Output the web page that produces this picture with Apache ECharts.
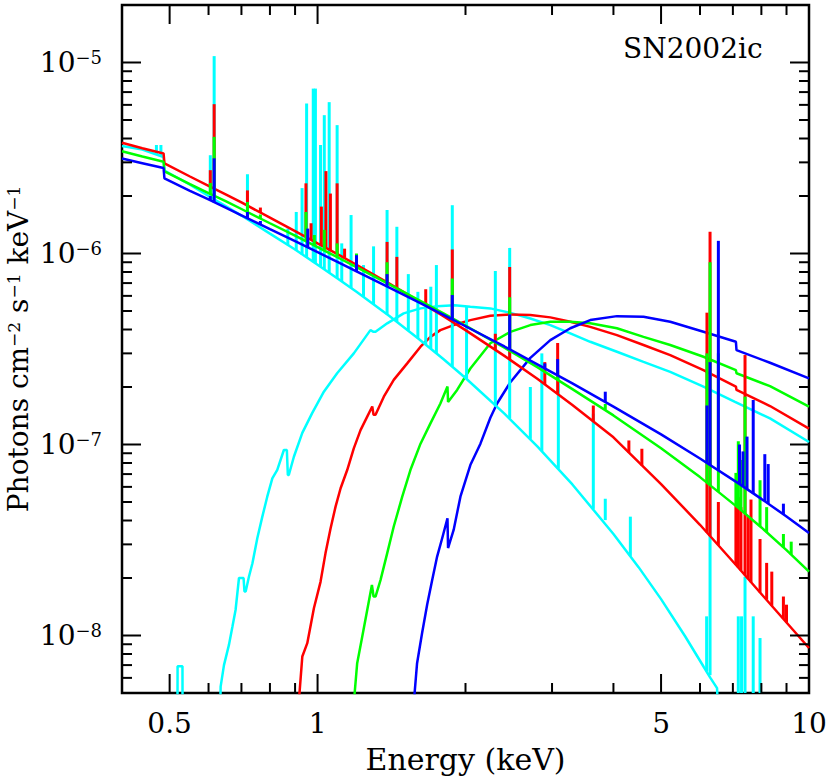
<!DOCTYPE html>
<html><head><meta charset="utf-8">
<script src="https://cdn.jsdelivr.net/npm/echarts@6/dist/echarts.min.js"></script>
<style>html,body{margin:0;padding:0;background:#fff}#c{width:830px;height:780px}</style>
</head><body><div id="c"></div>
<script>
// ---------- axis ranges & ticks ----------
const X_MIN = 0.4, X_MAX = 10, Y_MIN = 5e-9, Y_MAX = 2e-5;
const xMajorTicks = [0.5, 1, 5, 10];
const xTickLabels = ['0.5', '1', '5', '10'];
const xMinorTicks = [0.6, 0.7, 0.8, 0.9, 2, 3, 4, 6, 7, 8, 9];
const yMajorTicks = [1e-8, 1e-7, 1e-6, 1e-5];
const yMinorTicks = [6e-9, 7e-9, 8e-9, 9e-9, 2e-8, 3e-8, 4e-8, 5e-8, 6e-8, 7e-8, 8e-8, 9e-8,
  2e-7, 3e-7, 4e-7, 5e-7, 6e-7, 7e-7, 8e-7, 9e-7, 2e-6, 3e-6, 4e-6, 5e-6, 6e-6, 7e-6, 8e-6, 9e-6];

// ---------- absorbed (rising) model curves [keV, flux] ----------
const cyanAbs = [[0.518,1e-9],[0.519,6.9e-9],[0.531,6.9e-9],[0.532,1e-9],[0.628,1e-9],[0.635,5.4e-9],[0.645,7.0e-9],[0.660,8.9e-9],[0.671,1.11e-8],[0.681,1.36e-8],[0.692,2.0e-8],[0.707,2.0e-8],[0.710,1.70e-8],[0.714,1.70e-8],[0.725,2.03e-8],[0.737,2.39e-8],[0.754,3.23e-8],[0.772,4.19e-8],[0.790,5.33e-8],[0.809,6.65e-8],[0.828,7.36e-8],[0.854,9.36e-8],[0.866,9.36e-8],[0.870,6.92e-8],[0.874,6.92e-8],[0.895,8.63e-8],[0.931,1.15e-7],[0.975,1.46e-7],[1.030,1.89e-7],[1.096,2.36e-7],[1.185,3.0e-7],[1.281,3.97e-7],[1.300,3.89e-7],[1.312,3.89e-7],[1.386,4.31e-7],[1.497,4.86e-7],[1.620,5.16e-7],[1.751,5.30e-7],[1.900,5.36e-7],[2.046,5.26e-7],[2.247,5.16e-7],[2.468,4.89e-7],[2.710,4.57e-7],[2.976,4.22e-7],[3.268,3.82e-7],[3.588,3.45e-7],[4.066,3.06e-7],[4.605,2.71e-7],[5.219,2.40e-7],[6.098,2.01e-7],[7.07,1.67e-7],[8.33,1.37e-7],[10,1.03e-7]];
const redAbs = [[0.905,3e-9],[0.931,7.76e-9],[0.953,9.12e-9],[0.983,1.39e-8],[1.014,1.91e-8],[1.038,2.70e-8],[1.063,3.64e-8],[1.088,4.73e-8],[1.114,5.90e-8],[1.149,7.35e-8],[1.185,9.55e-8],[1.223,1.19e-7],[1.262,1.40e-7],[1.292,1.58e-7],[1.300,1.43e-7],[1.312,1.43e-7],[1.364,1.78e-7],[1.429,2.18e-7],[1.522,2.66e-7],[1.620,3.25e-7],[1.697,3.66e-7],[1.778,3.97e-7],[1.892,4.22e-7],[2.046,4.48e-7],[2.247,4.72e-7],[2.468,4.80e-7],[2.710,4.76e-7],[2.976,4.63e-7],[3.268,4.39e-7],[3.588,4.13e-7],[4.066,3.74e-7],[4.605,3.32e-7],[5.219,2.94e-7],[6.098,2.45e-7],[7.10,2.01e-7],[7.12,1.93e-7],[8.33,1.59e-7],[10,1.21e-7]];
const greenAbs = [[1.170,3e-9],[1.204,7.16e-9],[1.233,9.87e-9],[1.262,1.36e-8],[1.290,1.84e-8],[1.300,1.60e-8],[1.312,1.60e-8],[1.343,1.95e-8],[1.386,2.70e-8],[1.429,3.72e-8],[1.487,5.33e-8],[1.545,7.35e-8],[1.620,1.01e-7],[1.697,1.29e-7],[1.778,1.64e-7],[1.838,2.01e-7],[1.843,1.67e-7],[1.849,1.67e-7],[1.923,1.93e-7],[2.046,2.50e-7],[2.247,3.39e-7],[2.468,3.89e-7],[2.710,4.22e-7],[2.976,4.39e-7],[3.268,4.39e-7],[3.588,4.31e-7],[4.066,4.06e-7],[4.605,3.66e-7],[5.219,3.32e-7],[6.098,2.88e-7],[7.10,2.45e-7],[7.12,2.36e-7],[8.33,2.02e-7],[10,1.58e-7]];
const blueAbs = [[1.550,3e-9],[1.594,7.16e-9],[1.632,1.03e-8],[1.671,1.45e-8],[1.711,1.95e-8],[1.751,2.59e-8],[1.793,3.23e-8],[1.838,4.11e-8],[1.843,2.87e-8],[1.849,2.87e-8],[1.892,3.57e-8],[1.953,5.33e-8],[2.046,7.81e-8],[2.145,1.01e-7],[2.247,1.38e-7],[2.319,1.64e-7],[2.468,2.12e-7],[2.710,2.84e-7],[2.976,3.52e-7],[3.268,4.06e-7],[3.588,4.48e-7],[4.066,4.70e-7],[4.605,4.67e-7],[5.219,4.39e-7],[6.098,3.89e-7],[7.10,3.45e-7],[7.12,3.12e-7],[8.33,2.68e-7],[10,2.22e-7]];

// ---------- unabsorbed model continua [keV, flux] ----------
const cyanCont = [[0.40,3.65e-6],[0.44,3.50e-6],[0.486,3.20e-6],[0.488,2.72e-6],[0.55,2.29e-6],[0.60,2.00e-6],[0.65,1.77e-6],[0.70,1.58e-6],[0.80,1.27e-6],[0.90,1.05e-6],[1.0,8.73e-7],[1.1,7.38e-7],[1.2,6.30e-7],[1.4,4.71e-7],[1.6,3.60e-7],[1.8,2.81e-7],[2.0,2.23e-7],[2.4,1.45e-7],[2.8,9.78e-8],[3.3,6.18e-8],[4.0,3.40e-8],[4.5,2.28e-8],[5.0,1.55e-8],[5.6,9.88e-9],[6.1,6.88e-9],[6.3,6.0e-9],[6.5,5.3e-9],[6.6,2e-9]];
const redCont = [[0.40,3.80e-6],[0.44,3.56e-6],[0.486,3.34e-6],[0.488,2.96e-6],[0.55,2.53e-6],[0.60,2.26e-6],[0.65,2.04e-6],[0.70,1.85e-6],[0.80,1.54e-6],[0.90,1.31e-6],[1.0,1.13e-6],[1.1,9.90e-7],[1.2,8.73e-7],[1.4,6.95e-7],[1.6,5.67e-7],[1.8,4.71e-7],[2.0,3.97e-7],[2.4,2.91e-7],[2.8,2.21e-7],[3.3,1.61e-7],[4.0,1.09e-7],[5.0,6.2e-8],[6.0,3.8e-8],[7.2,2.25e-8],[8.0,1.65e-8],[9.0,1.17e-8],[10,8.6e-9]];
const greenCont = [[0.40,3.43e-6],[0.44,3.22e-6],[0.486,3.02e-6],[0.488,2.69e-6],[0.55,2.31e-6],[0.60,2.07e-6],[0.65,1.88e-6],[0.70,1.71e-6],[0.80,1.44e-6],[0.90,1.24e-6],[1.0,1.08e-6],[1.1,9.53e-7],[1.2,8.49e-7],[1.4,6.90e-7],[1.6,5.74e-7],[1.8,4.87e-7],[2.0,4.19e-7],[2.4,3.21e-7],[2.8,2.54e-7],[3.3,1.95e-7],[4.0,1.42e-7],[5.0,9.56e-8],[6.0,6.75e-8],[7.2,4.63e-8],[8.0,3.68e-8],[9.0,2.80e-8],[10,2.16e-8]];
const blueCont = [[0.40,3.14e-6],[0.44,2.97e-6],[0.486,2.80e-6],[0.488,2.47e-6],[0.55,2.13e-6],[0.60,1.92e-6],[0.65,1.74e-6],[0.70,1.585e-6],[0.80,1.34e-6],[0.90,1.16e-6],[1.0,1.016e-6],[1.1,9.01e-7],[1.2,8.07e-7],[1.4,6.63e-7],[1.6,5.58e-7],[1.8,4.78e-7],[2.0,4.16e-7],[2.4,3.26e-7],[2.8,2.63e-7],[3.3,2.09e-7],[4.0,1.58e-7],[5.0,1.13e-7],[6.0,8.45e-8],[7.2,6.24e-8],[8.0,5.19e-8],[9.0,4.20e-8],[10,3.44e-8]];

// ---------- emission lines [keV, continuum level, peak] ----------
const cyanLines = [[0.470,3.30e-6,3.70e-6],[0.480,3.24e-6,3.70e-6],[0.605,1.975e-6,3.27e-6],[0.616,1.93e-6,1.08e-5],[0.720,1.51e-6,2.60e-6],[0.870,1.107e-6,1.35e-6],[0.905,1.036e-6,1.65e-6],[0.930,9.89e-7,2.2e-6],[0.950,9.54e-7,6.1e-6],[0.980,9.0e-7,7.3e-6],[0.990,8.85e-7,7.3e-6],[1.014,8.53e-7,3.7e-6],[1.032,8.27e-7,5.3e-6],[1.056,7.94e-7,6.2e-6],[1.096,7.43e-7,4.7e-6],[1.120,7.14e-7,1.13e-6],[1.170,6.6e-7,1.59e-6],[1.240,5.93e-7,8.7e-7],[1.300,5.43e-7,1.09e-6],[1.385,4.8e-7,1.69e-6],[1.450,4.39e-7,1.38e-6],[1.530,3.95e-7,7.8e-7],[1.600,3.6e-7,6.3e-7],[1.660,3.34e-7,5.2e-7],[1.700,3.18e-7,6.7e-7],[1.745,3.0e-7,8.7e-7],[1.880,2.56e-7,1.79e-6],[2.010,2.21e-7,5.3e-7],[2.300,1.58e-7,8.1e-7],[2.460,1.37e-7,1.07e-6],[2.710,1.07e-7,2.0e-7],[2.860,9.24e-8,3.0e-7],[3.090,7.46e-8,2.3e-7],[3.640,4.6e-8,1.45e-7],[3.850,4.02e-8,5.2e-8],[4.330,2.61e-8,4.19e-8],[6.190,6.5e-9,1.26e-8],[6.290,6.2e-9,6.5e-8],[7.180,1e-9,1.26e-8],[7.290,1e-9,1.26e-8],[7.410,1e-9,2.03e-8],[7.700,1e-9,1.26e-8],[7.950,1e-9,9.7e-9]];
const redLines = [[0.605,2.24e-6,2.73e-6],[0.616,2.19e-6,6.05e-6],[0.720,1.78e-6,2.14e-6],[0.765,1.64e-6,1.74e-6],[0.947,1.22e-6,2.33e-6],[0.970,1.18e-6,1.44e-6],[1.018,1.10e-6,1.76e-6],[1.040,1.07e-6,2.7e-6],[1.062,1.04e-6,2.06e-6],[1.096,9.94e-7,2.33e-6],[1.135,9.5e-7,1.06e-6],[1.385,7.07e-7,1.15e-6],[1.450,6.6e-7,9.6e-7],[1.660,5.36e-7,6.5e-7],[1.880,4.39e-7,1.05e-6],[2.300,3.13e-7,3.8e-7],[2.460,2.79e-7,8.5e-7],[2.900,2.07e-7,2.7e-7],[3.080,1.84e-7,3.4e-7],[3.640,1.32e-7,1.6e-7],[4.300,9.08e-8,1.05e-7],[4.570,7.76e-8,9.5e-8],[6.200,3.46e-8,4.9e-7],[6.290,3.32e-8,1.3e-6],[6.540,2.97e-8,5.0e-8],[7.100,2.34e-8,4.8e-8],[7.180,2.27e-8,5.3e-8],[7.270,2.19e-8,4.7e-8],[7.410,2.07e-8,2.94e-7],[7.520,1.98e-8,4.2e-8],[7.620,1.90e-8,5.15e-8],[7.950,1.68e-8,3.2e-8],[8.200,1.54e-8,2.4e-8],[8.400,1.43e-8,2.16e-8],[8.870,1.22e-8,1.6e-8],[9.000,1.17e-8,1.45e-8]];
const greenLines = [[0.605,2.05e-6,2.34e-6],[0.616,2.01e-6,4.08e-6],[0.720,1.65e-6,1.86e-6],[0.765,1.526e-6,1.60e-6],[0.947,1.155e-6,1.65e-6],[0.985,1.10e-6,1.25e-6],[1.032,1.04e-6,1.33e-6],[1.096,9.58e-7,1.13e-6],[1.200,8.49e-7,1.0e-6],[1.385,7.0e-7,9.0e-7],[1.880,4.57e-7,7.4e-7],[2.460,3.09e-7,5.9e-7],[3.080,2.18e-7,2.45e-7],[3.850,1.52e-7,1.63e-7],[6.200,6.31e-8,3.0e-7],[6.290,6.12e-8,9.0e-7],[6.540,5.65e-8,3.0e-7],[7.100,4.77e-8,7.1e-8],[7.180,4.66e-8,1.04e-7],[7.270,4.53e-8,8.3e-8],[7.410,4.35e-8,1.78e-7],[7.950,3.73e-8,6.5e-8],[8.200,3.48e-8,4.7e-8],[8.870,2.89e-8,3.4e-8],[9.200,2.65e-8,3.1e-8]];
const blueLines = [[0.605,1.90e-6,2.0e-6],[0.616,1.85e-6,3.15e-6],[0.720,1.53e-6,1.65e-6],[0.765,1.42e-6,1.48e-6],[0.955,1.08e-6,1.35e-6],[1.200,8.07e-7,9.8e-7],[1.385,6.72e-7,7.8e-7],[1.880,4.51e-7,6.06e-7],[2.460,3.15e-7,4.8e-7],[2.900,2.51e-7,2.66e-7],[3.080,2.31e-7,2.8e-7],[3.850,1.67e-7,1.89e-7],[6.200,8.0e-8,1.6e-7],[6.290,7.81e-8,2.7e-7],[6.540,7.32e-8,1.165e-6],[7.220,6.22e-8,1.0e-7],[7.340,6.03e-8,9.2e-8],[7.480,5.84e-8,1.1e-7],[7.700,5.55e-8,1.71e-7],[8.130,5.04e-8,8.9e-8],[8.260,4.9e-8,7.9e-8],[8.870,4.31e-8,4.9e-8]];

// ---------- drawing ----------
const FONT = '"DejaVu Serif", serif';
const C_CYAN = '#00ffff', C_RED = '#ff0000', C_GREEN = '#00ff00', C_BLUE = '#0000ff';
const LW = 2.5, SPIKE_W = 3;

function lineSeries(data, color, z) {
  return { type: 'line', data: data, z: z, symbol: 'none', showSymbol: false, clip: true, silent: true,
    animation: false, lineStyle: { color: color, width: LW }, itemStyle: { color: color } };
}
function spikeSeries(data, color, z) {
  return { type: 'custom', data: data, z: z, clip: true, silent: true, animation: false,
    encode: { x: 0, y: 1 },
    renderItem: function (params, api) {
      const cs = params.coordSys;
      const p0 = api.coord([api.value(0), api.value(1)]);
      const p1 = api.coord([api.value(0), api.value(2)]);
      const bottom = Math.min(p0[1], cs.y + cs.height);
      const top = Math.max(p1[1], cs.y);
      if (bottom <= top) return null;
      return { type: 'rect', shape: { x: p0[0] - SPIKE_W / 2, y: top, width: SPIKE_W, height: bottom - top }, style: { fill: color } };
    } };
}
function xTickSeries(values, len, labels) {
  return { type: 'custom', z: 60, silent: true, animation: false, clip: false,
    data: values.map(v => [v, Y_MIN]),
    renderItem: function (params, api) {
      const cs = params.coordSys;
      const x = api.coord([api.value(0), Y_MIN])[0];
      const t = cs.y, b = cs.y + cs.height;
      const ch = [
        { type: 'line', shape: { x1: x, y1: b, x2: x, y2: b - len }, style: { stroke: '#000', lineWidth: 2 } },
        { type: 'line', shape: { x1: x, y1: t, x2: x, y2: t + len }, style: { stroke: '#000', lineWidth: 2 } }
      ];
      if (labels) ch.push({ type: 'text', x: x, y: b + 30,
        style: { text: labels[params.dataIndex], font: '28px ' + FONT, fill: '#000', align: 'center', verticalAlign: 'middle' } });
      return { type: 'group', children: ch };
    } };
}
function yTickSeries(values, len) {
  return { type: 'custom', z: 60, silent: true, animation: false, clip: false,
    data: values.map(v => [X_MIN, v]),
    renderItem: function (params, api) {
      const cs = params.coordSys;
      const y = api.coord([X_MIN, api.value(1)])[1];
      const l = cs.x, r = cs.x + cs.width;
      return { type: 'group', children: [
        { type: 'line', shape: { x1: l, y1: y, x2: l + len, y2: y }, style: { stroke: '#000', lineWidth: 2 } },
        { type: 'line', shape: { x1: r, y1: y, x2: r - len, y2: y }, style: { stroke: '#000', lineWidth: 2 } }
      ] };
    } };
}
function fmtY(v) {
  const e = Math.log10(v), r = Math.round(e);
  if (Math.abs(e - r) > 1e-6) return '';
  return '{b|10}{s|\u2212' + Math.abs(r) + '}';
}

const chart = echarts.init(document.getElementById('c'), null, { renderer: 'svg' });
chart.setOption({
  animation: false,
  backgroundColor: '#ffffff',
  grid: { left: 122, right: 21, top: 5, bottom: 87, containLabel: false, outerBoundsMode: 'none',
    show: true, borderColor: '#000', borderWidth: 2.5, backgroundColor: 'transparent' },
  xAxis: { type: 'log', logBase: 10, min: X_MIN, max: X_MAX,
    axisLine: { show: false }, axisTick: { show: false }, axisLabel: { show: false }, splitLine: { show: false },
    name: 'Energy (keV)', nameLocation: 'middle', nameGap: 51,
    nameTextStyle: { fontFamily: FONT, fontSize: 30, color: '#000' } },
  yAxis: { type: 'log', logBase: 10, min: Y_MIN, max: Y_MAX,
    axisLine: { show: false }, axisTick: { show: false }, splitLine: { show: false },
    axisLabel: { show: true, margin: 20, formatter: fmtY,
      rich: { b: { fontFamily: FONT, fontSize: 28, color: '#000' },
              s: { fontFamily: FONT, fontSize: 18, color: '#000', padding: [0, 0, 10, 0] } } },
    name: '{n|Photons cm}{s|\u22122}{n| s}{s|\u22121}{n| keV}{s|\u22121}',
    nameLocation: 'middle', nameGap: 104, nameMoveOverlap: false,
    nameTextStyle: { verticalAlign: 'middle',
      rich: { n: { fontFamily: FONT, fontSize: 28, lineHeight: 24, color: '#000' },
              s: { fontFamily: FONT, fontSize: 17, lineHeight: 14, color: '#000', padding: [0, 0, 9, 0] } } } },
  graphic: [{ type: 'text', left: 623, top: 34, z: 100,
    style: { text: 'SN2002ic', font: '28px ' + FONT, fill: '#000' } }],
  series: [
    lineSeries(cyanAbs, C_CYAN, 2),
    lineSeries(redAbs, C_RED, 3),
    lineSeries(greenAbs, C_GREEN, 4),
    lineSeries(blueAbs, C_BLUE, 5),
    lineSeries(cyanCont, C_CYAN, 6),
    spikeSeries(cyanLines, C_CYAN, 7),
    lineSeries(redCont, C_RED, 8),
    spikeSeries(redLines, C_RED, 9),
    lineSeries(greenCont, C_GREEN, 10),
    spikeSeries(greenLines, C_GREEN, 11),
    lineSeries(blueCont, C_BLUE, 12),
    spikeSeries(blueLines, C_BLUE, 13),
    xTickSeries(xMajorTicks, 19, xTickLabels),
    xTickSeries(xMinorTicks, 10, null),
    yTickSeries(yMajorTicks, 19),
    yTickSeries(yMinorTicks, 10)
  ]
});
</script>
</body></html>
